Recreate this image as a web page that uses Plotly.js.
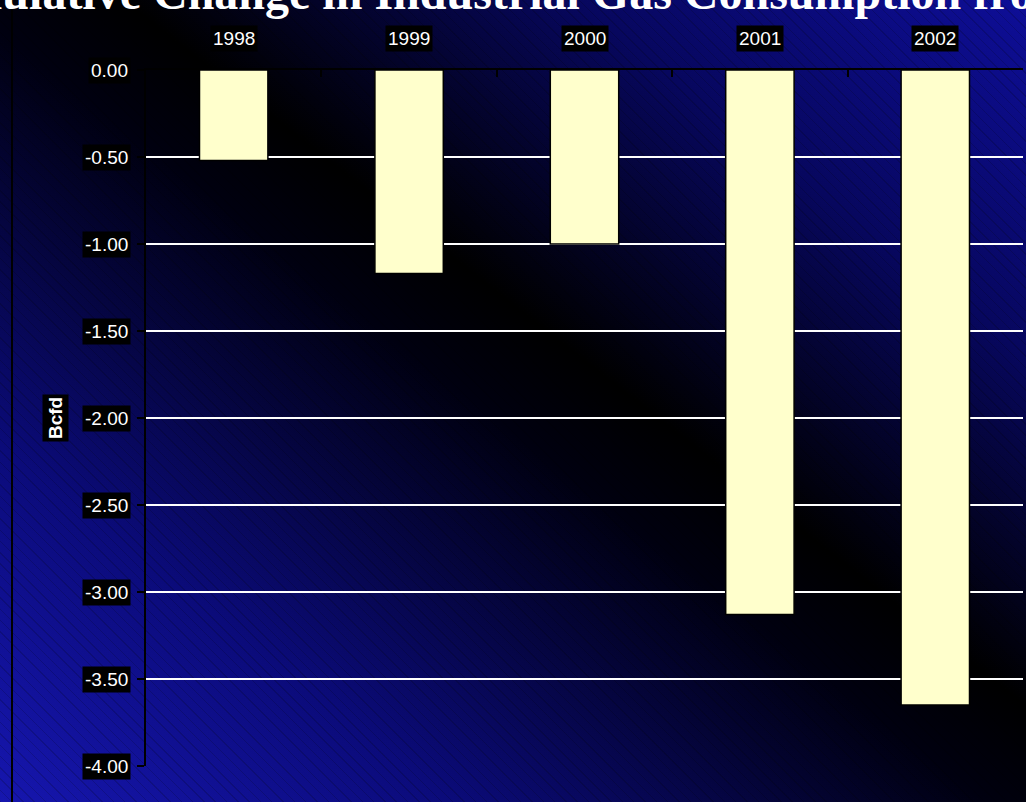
<!DOCTYPE html>
<html>
<head>
<meta charset="utf-8">
<script src="https://cdn.plot.ly/plotly-3.0.1.min.js"></script>
<style>
html,body{margin:0;padding:0;width:1026px;height:802px;overflow:hidden;}
body{
  background:
    repeating-linear-gradient(45deg, rgba(0,0,0,0.16) 0px, rgba(0,0,0,0.16) 1px, rgba(0,0,0,0) 1px, rgba(0,0,0,0) 8px),
    linear-gradient(to top right, #1616ae 0%, #0b0b7a 22%, #000010 48%, #000000 56%, #07075e 78%, #0e0e98 100%);
}
#chart{width:1026px;height:802px;}
</style>
</head>
<body>
<div id="chart"></div>
<script>
const years = ['1998', '1999', '2000', '2001', '2002'];
const changeBcfd = [-0.52, -1.17, -1.00, -3.13, -3.65];
const yTickVals = [0, -0.5, -1, -1.5, -2, -2.5, -3, -3.5, -4];
const yTickText = ['0.00', '-0.50', '-1.00', '-1.50', '-2.00', '-2.50', '-3.00', '-3.50', '-4.00'];
const titleText = 'Cumulative Change in Industrial Gas Consumption from 1997';
const yTitle = 'Bcfd';

const labelFont = {family: 'Liberation Sans, Arial, sans-serif', size: 19, color: '#ffffff'};

const annotations = [];
years.forEach((y, i) => annotations.push({
  x: i, xref: 'x', xanchor: 'center', y: 1, yref: 'paper', yshift: 32, yanchor: 'middle',
  text: y, showarrow: false, bgcolor: '#000000', borderpad: 2, font: labelFont
}));
yTickVals.forEach((v, i) => annotations.push({
  x: 0, xref: 'paper', xanchor: 'right', xshift: -15, y: v, yref: 'y', yanchor: 'middle',
  text: yTickText[i], showarrow: false, bgcolor: '#000000', borderpad: 2, font: labelFont
}));
annotations.push({
  x: 0, xref: 'paper', xanchor: 'center', xshift: -91, y: -2, yref: 'y', yanchor: 'middle',
  text: '<b>' + yTitle + '</b>', textangle: -90, showarrow: false, bgcolor: '#000000', borderpad: 2,
  font: {family: 'Liberation Sans, Arial, sans-serif', size: 19, color: '#ffffff'}
});
annotations.push({
  x: 0, xref: 'paper', xanchor: 'left', xshift: -247, y: 1, yref: 'paper', yshift: 78, yanchor: 'middle',
  text: '<b>' + titleText + '</b>', showarrow: false,
  font: {family: 'Liberation Serif, Times New Roman, serif', size: 48, color: '#ffffff'}
});

const data = [{
  type: 'bar', x: years, y: changeBcfd,
  marker: {color: '#FFFFCC', line: {color: '#000000', width: 1.5}},
  hoverinfo: 'skip'
}];

const layout = {
  width: 1026, height: 802,
  paper_bgcolor: 'rgba(0,0,0,0)', plot_bgcolor: 'rgba(0,0,0,0)',
  margin: {l: 146, r: 3, t: 70, b: 36, pad: 0},
  showlegend: false,
  bargap: 0.61,
  xaxis: {
    type: 'category', side: 'top', showticklabels: false, range: [-0.5, 4.5], autorange: false,
    ticks: 'inside', tickson: 'boundaries', ticklen: 7, tickwidth: 2, tickcolor: '#000000',
    showline: true, linecolor: '#000000', linewidth: 2, showgrid: false, zeroline: false,
    fixedrange: true
  },
  yaxis: {
    range: [-4, 0], autorange: false, tickvals: yTickVals, showticklabels: false,
    ticks: 'outside', ticklen: 7, tickwidth: 2, tickcolor: '#000000',
    showline: true, linecolor: '#000000', linewidth: 2,
    showgrid: true, gridcolor: '#ffffff', gridwidth: 1.5,
    zeroline: false, fixedrange: true
  },
  shapes: [{
    type: 'line', xref: 'paper', yref: 'paper',
    x0: (12 - 146) / 877, x1: (12 - 146) / 877, y0: -0.1, y1: 1.2,
    line: {color: '#000000', width: 2}
  }],
  annotations: annotations
};

Plotly.newPlot('chart', data, layout, {displayModeBar: false, staticPlot: true});
</script>
</body>
</html>
